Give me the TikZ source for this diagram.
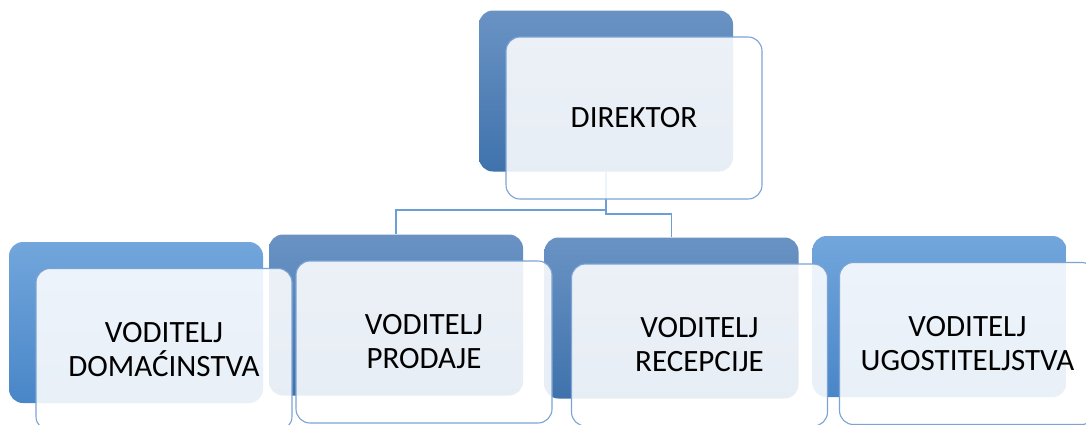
\documentclass[tikz,border=0pt]{standalone}
\usepackage{fontspec}
\setmainfont{Carlito}
\usepackage{tikz}
\usetikzlibrary{positioning}

\definecolor{darktop}{HTML}{6A93C4}
\definecolor{darkbot}{HTML}{3F72AC}
\definecolor{lighttop}{HTML}{72A6DC}
\definecolor{lightbot}{HTML}{4986C8}
\definecolor{frameblue}{HTML}{7BA3D3}
\definecolor{lineblue}{HTML}{6C9FD6}

\begin{document}
\begin{tikzpicture}[x=0.5pt,y=-0.5pt]
\tikzstyle{every node}+=[inner sep=0pt]
\tikzstyle{back}=[rounded corners=7pt, minimum width=127pt, minimum height=80.5pt]
\tikzstyle{darkback}=[back, top color=darktop, bottom color=darkbot]
\tikzstyle{lightback}=[back, top color=lighttop, bottom color=lightbot]
\tikzstyle{front}=[rounded corners=7pt, minimum width=128pt, minimum height=81pt, draw=frameblue, line width=0.55pt, fill=white, fill opacity=0.88, text opacity=1, align=center, font=\fontsize{15.5}{17}\selectfont]
\tikzstyle{conn}=[draw=lineblue, line width=0.8pt]
\useasboundingbox (0,0) rectangle (1086,424);
\node [darkback] (bdir) at (606,91) {};
\node [lightback] (bdom) at (136,322.5) {};
\node [darkback] (bpro) at (396,315) {};
\node [darkback] (brec) at (671.5,318) {};
\node [lightback] (bugo) at (939.5,316.5) {};
\draw [conn] (bdir.south) -- ++(0,38) -| (bpro.north);
\draw [conn] (bdir.south) -- ++(0,42) -| (brec.north);
\node [front] (dir) at ([shift={(28,27)}]bdir.center) {DIREKTOR};
\node [front] (dom) at ([shift={(28,27)}]bdom.center) {VODITELJ\\DOMAĆINSTVA};
\node [front] (pro) at ([shift={(28,27)}]bpro.center) {VODITELJ\\PRODAJE};
\node [front] (rec) at ([shift={(28,27)}]brec.center) {VODITELJ\\RECEPCIJE};
\node [front] (ugo) at ([shift={(28,27)}]bugo.center) {VODITELJ\\UGOSTITELJSTVA};
\end{tikzpicture}
\end{document}
